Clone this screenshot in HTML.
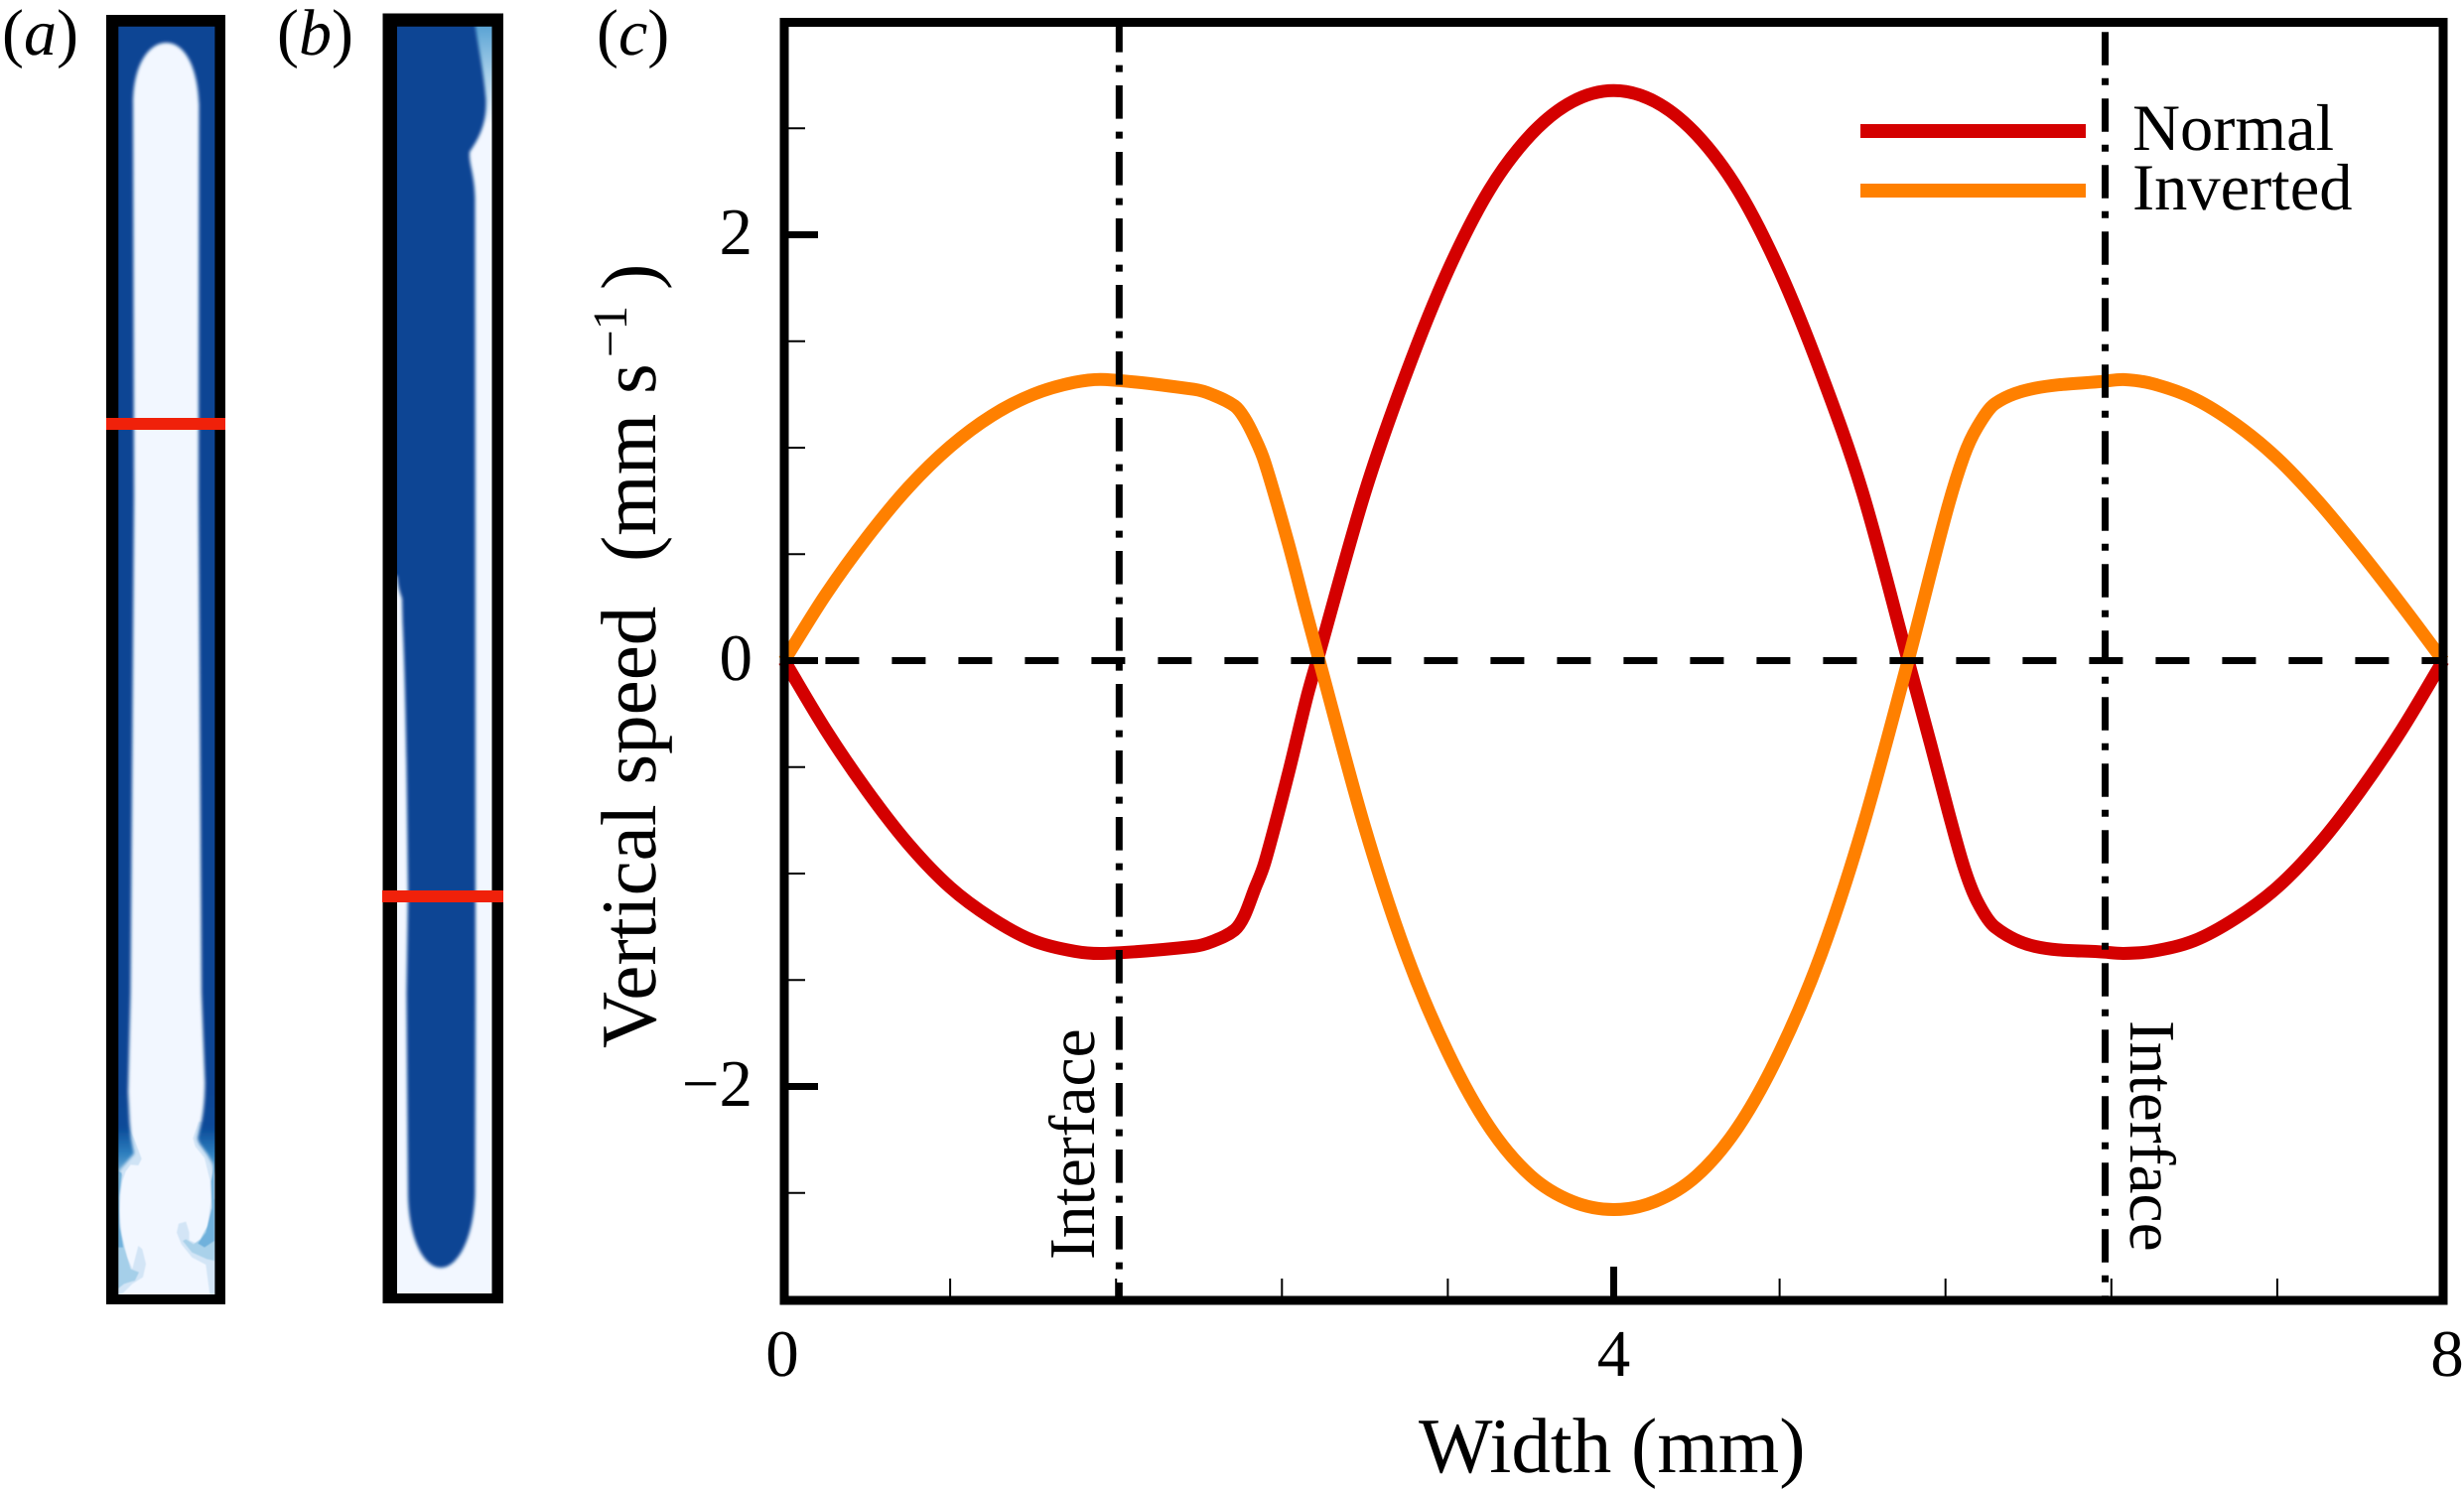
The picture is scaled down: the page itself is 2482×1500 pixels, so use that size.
<!DOCTYPE html>
<html lang="en">
<head>
<meta charset="utf-8">
<title>Vertical speed across channel width</title>
<style>
html,body{margin:0;padding:0;background:#fff;}
svg{display:block;font-family:"Liberation Serif",serif;fill:#000;text-rendering:geometricPrecision;}
</style>
</head>
<body>
<svg id="figure" xmlns="http://www.w3.org/2000/svg" width="2482" height="1500" viewBox="0 0 2482 1500">
<defs>
  <clipPath id="clip-a"><rect x="118" y="26" width="100" height="1279"/></clipPath>
  <clipPath id="clip-b"><rect x="399" y="26" width="97.5" height="1278"/></clipPath>
  <filter id="blur-edge" x="-20%" y="-5%" width="140%" height="110%"><feGaussianBlur stdDeviation="1.6"/></filter>
  <filter id="blur-soft" x="-30%" y="-30%" width="160%" height="160%"><feGaussianBlur stdDeviation="1.2"/></filter>
  <linearGradient id="a-dark-fade" gradientUnits="userSpaceOnUse" x1="0" y1="1100" x2="0" y2="1190">
    <stop offset="0" stop-color="#084594"/><stop offset="0.4" stop-color="#0a4b99"/><stop offset="0.7" stop-color="#2f80bf"/><stop offset="1" stop-color="#8cc0e2"/>
  </linearGradient>
  <linearGradient id="b-top-fade" gradientUnits="userSpaceOnUse" x1="0" y1="26" x2="0" y2="125">
    <stop offset="0" stop-color="#5aa3d4"/><stop offset="0.5" stop-color="#a9d1ea"/><stop offset="1" stop-color="#f2f7ff"/>
  </linearGradient>
</defs>

<g>
  <text x="2" y="55" font-size="66">(<tspan font-style="italic">a</tspan>)</text>
  <g clip-path="url(#clip-a)">
    <rect x="118" y="26" width="100" height="1279" fill="#f2f7ff"/>
    <g transform="translate(100,1110) scale(0.3333)" filter="url(#blur-soft)">
      <path d="M85,70 L105,110 L128,172 L118,192 L95,190 L80,210 L70,240 L62,300 L50,300 L50,70Z" fill="#cfe3f5"/>
      <path d="M300,60 L283,110 L290,135 L318,170 L334,235 L337,300 L326,380 L300,430 L272,418 L272,395 L262,362 L240,368 L234,395 L248,430 L280,470 L322,492 L334,582 L355,582 L355,60Z" fill="#d3e5f6"/>
      <path d="M345,290 L330,370 L305,415 L285,430 L262,415 L252,420 L280,455 L325,475 L348,480 L355,300Z" fill="#a9d1ea"/>
      <path d="M348,180 L338,240 L340,320 L322,395 L298,428 L318,440 L348,420Z" fill="#6fb1dc"/>
      <path d="M50,200 L75,215 L66,260 L62,330 L68,400 L85,470 L100,505 L118,435 L130,445 L141,490 L132,530 L100,550 L72,578 L50,585Z" fill="#d3e5f6"/>
      <path d="M50,210 L70,220 L62,280 L60,360 L75,440 L95,505 L120,515 L108,540 L75,550 L50,570Z" fill="#a5cfe9"/>
      <path d="M50,205 L68,215 L60,290 L62,380 L72,440 L50,440Z" fill="#6fb1dc"/>
    </g>
    <path filter="url(#blur-edge)" fill="url(#a-dark-fade)" d="M110,20 H225 V1182 H216 L214,1172 L209,1163 L201,1152 L199,1147 L203,1130 C205,1120 206.5,1105 206.5,1090 L203,1000 L200,500 L200.5,105 C199,65 185,43 167.5,43 C150,43 134,65 134,105 L135,500 L131.5,1000 L129,1100 L130.5,1130 L132,1147 L135,1162 L128,1170 L121,1178 L119,1188 H110Z"/>
  </g>
  <path fill="#000" fill-rule="evenodd" d="M107,15 H227 V1314 H107Z M119.3,26.7 V1304 H216.4 V26.7Z"/>
  <rect x="107" y="421" width="120" height="12" fill="#f0210a"/>
</g>

<g>
  <text x="279" y="55" font-size="66">(<tspan font-style="italic">b</tspan>)</text>
  <g clip-path="url(#clip-b)">
    <rect x="399" y="26" width="98" height="1278" fill="#f2f7ff"/>
    <rect x="470" y="26" width="27" height="100" fill="url(#b-top-fade)"/>
    <path filter="url(#blur-edge)" fill="#084594" d="M390,20 H478 C481,45 487,70 489.5,100 C490.5,125 482,140 473,153 C472,165 478,175 478.5,200 L479,1000 L478.5,1200 C478,1245 462,1277 444,1277 C426,1277 411,1245 411,1200 L409.5,1000 L411,900 C410,800 409,700 405.5,625 L405,603 C403,597 401,592 400,580 H390Z"/>
  </g>
  <path fill="#000" fill-rule="evenodd" d="M385.5,13.5 H507 V1313 H385.5Z M400,26.7 V1303 H495.5 V26.7Z"/>
  <rect x="385" y="897" width="122" height="12" fill="#f0210a"/>
</g>

<g>
  <text x="601" y="55" font-size="66">(<tspan font-style="italic">c</tspan>)</text>
  <g id="series-layer"></g>
  <g id="guide-layer"></g>
  <g id="tick-layer"></g>
  <rect x="790" y="22.5" width="1671" height="1287.5" fill="none" stroke="#000" stroke-width="9"/>
  <g id="label-layer" font-size="67"></g>

  <text x="1429" y="1483" font-size="79">Width (mm)</text>
  <g font-size="79">
    <text transform="translate(660,1056) rotate(-90)">Vertical speed</text>
    <text transform="translate(660,566) rotate(-90)">(mm s</text>
    <text transform="translate(631,360) rotate(-90)" font-size="49">−1</text>
    <text transform="translate(660,292) rotate(-90)">)</text>
  </g>

  <text transform="translate(1102,1269) rotate(-90)" font-size="65.5">Interface</text>
  <text transform="translate(2146,1028) rotate(90)" font-size="65.5">Interface</text>

  <g font-size="66.5">
    <g>
      <rect x="1874" y="125" width="227" height="14" fill="#d40000"/>
      <text x="2148" y="151">Normal</text>
    </g>
    <g>
      <rect x="1874" y="185" width="227" height="14" fill="#ff8000"/>
      <text x="2148" y="211">Inverted</text>
    </g>
  </g>
</g>
</svg>

<script>
// Chart values (mm, mm/s)
const normalX = [0,0.2,0.4,0.6,0.8,1,1.2,1.4,1.55,1.976,2.062,2.172,2.218,2.268,2.317,2.429,2.52,2.57,2.8,3,3.2,3.4,3.6,3.8,4,4.2,4.4,4.6,4.8,5,5.2,5.42,5.529,5.614,5.689,5.753,5.839,6.031,6.367,6.459,6.6,6.8,7,7.2,7.4,7.6,7.8,8];
const normalV = [0,-0.325,-0.612,-0.863,-1.065,-1.21,-1.315,-1.365,-1.375,-1.342,-1.32,-1.265,-1.2,-1.074,-0.949,-0.538,-0.173,0,0.79,1.35,1.83,2.21,2.47,2.625,2.677,2.625,2.47,2.21,1.83,1.35,0.79,0,-0.394,-0.71,-0.97,-1.13,-1.252,-1.342,-1.369,-1.375,-1.365,-1.315,-1.21,-1.065,-0.863,-0.612,-0.325,0];
const invertedX = [0,0.2,0.4,0.6,0.8,1,1.2,1.4,1.55,1.976,2.062,2.172,2.218,2.268,2.317,2.429,2.52,2.58,2.8,3,3.2,3.4,3.6,3.8,4,4.2,4.4,4.6,4.8,5,5.2,5.42,5.604,5.689,5.753,5.839,6.031,6.367,6.459,6.6,6.8,7,7.2,7.4,7.6,7.8,8];
const invertedV = [0,0.31,0.58,0.815,1.005,1.15,1.25,1.307,1.32,1.274,1.25,1.196,1.141,1.048,0.932,0.557,0.218,0,-0.785,-1.38,-1.84,-2.19,-2.42,-2.54,-2.578,-2.54,-2.42,-2.19,-1.84,-1.38,-0.785,0,0.695,0.962,1.096,1.207,1.279,1.312,1.32,1.3,1.23,1.11,0.95,0.745,0.51,0.26,0];
const xMajorTicks = [0,4,8];
const xMinorTicks = [0.8,1.6,2.4,3.2,4.8,5.6,6.4,7.2];
const yMajorTicks = [-2,0,2];
const yMinorTicks = [-2.5,-1.5,-1,-0.5,0.5,1,1.5,2.5];
const xTickLabels = ["0","4","8"];
const yTickLabels = ["−2","0","2"];
const interfacePositions = [1.615,6.37];

const NS = "http://www.w3.org/2000/svg";
function xScale(v){ return 790 + (v - 0) * (2461 - 790) / (8 - 0); }
function yScale(v){ return 665.5 - v * 214.5; }
function mk(tag){ return document.createElementNS(NS, tag); }

function splinePath(xs, vs){
  const p = xs.map(function(x, i){ return [xScale(x), yScale(vs[i])]; });
  const n = p.length;
  const m = p.map(function(pt, i){
    const a = p[Math.max(i - 1, 0)], c = p[Math.min(i + 1, n - 1)];
    return (c[1] - a[1]) / (c[0] - a[0]);
  });
  let d = "M" + p[0][0].toFixed(2) + "," + p[0][1].toFixed(2);
  for (let i = 0; i < n - 1; i++){
    const h = (p[i + 1][0] - p[i][0]) / 3;
    d += "C" + (p[i][0] + h).toFixed(2) + "," + (p[i][1] + m[i] * h).toFixed(2) + " " +
         (p[i + 1][0] - h).toFixed(2) + "," + (p[i + 1][1] - m[i + 1] * h).toFixed(2) + " " +
         p[i + 1][0].toFixed(2) + "," + p[i + 1][1].toFixed(2);
  }
  return d;
}

const seriesLayer = document.getElementById("series-layer");
const guideLayer = document.getElementById("guide-layer");
const tickLayer = document.getElementById("tick-layer");
const labelLayer = document.getElementById("label-layer");

const normalLine = mk("path");


normalLine.setAttribute("d", splinePath(normalX, normalV));
normalLine.setAttribute("fill", "none");
normalLine.setAttribute("stroke", "#d40000");
normalLine.setAttribute("stroke-width", "13");
normalLine.setAttribute("stroke-linejoin", "round");
seriesLayer.appendChild(normalLine);

const invertedLine = mk("path");


invertedLine.setAttribute("d", splinePath(invertedX, invertedV));
invertedLine.setAttribute("fill", "none");
invertedLine.setAttribute("stroke", "#ff8000");
invertedLine.setAttribute("stroke-width", "13");
invertedLine.setAttribute("stroke-linejoin", "round");
seriesLayer.appendChild(invertedLine);

const zeroLine = mk("line");


zeroLine.setAttribute("x1", xScale(0));
zeroLine.setAttribute("x2", xScale(8));
zeroLine.setAttribute("y1", yScale(0));
zeroLine.setAttribute("y2", yScale(0));
zeroLine.setAttribute("stroke", "#000");
zeroLine.setAttribute("stroke-width", "7");
zeroLine.setAttribute("stroke-dasharray", "34 33");
zeroLine.setAttribute("stroke-dashoffset", "25.6");
guideLayer.appendChild(zeroLine);

interfacePositions.forEach(function(pos, i){
  const line = mk("line");
  
  
  line.setAttribute("x1", xScale(pos));
  line.setAttribute("x2", xScale(pos));
  line.setAttribute("y1", i === 0 ? 26 : 32.2);
  line.setAttribute("y2", 1307);
  line.setAttribute("stroke", "#000");
  line.setAttribute("stroke-width", "7");
  line.setAttribute("stroke-dasharray", "33.6 13 7 13.4");
  line.setAttribute("stroke-dashoffset", i === 0 ? "7" : "0");
  guideLayer.appendChild(line);
});

yMajorTicks.forEach(function(v){
  const t = mk("line");
  
  
  t.setAttribute("x1", 790);
  t.setAttribute("x2", 824);
  t.setAttribute("y1", yScale(v));
  t.setAttribute("y2", yScale(v));
  t.setAttribute("stroke", "#000");
  t.setAttribute("stroke-width", "7");
  tickLayer.appendChild(t);
});
yMinorTicks.forEach(function(v){
  const t = mk("line");
  
  
  t.setAttribute("x1", 790);
  t.setAttribute("x2", 811);
  t.setAttribute("y1", yScale(v));
  t.setAttribute("y2", yScale(v));
  t.setAttribute("stroke", "#000");
  t.setAttribute("stroke-width", "2");
  tickLayer.appendChild(t);
});
xMajorTicks.forEach(function(v){
  const t = mk("line");
  
  
  t.setAttribute("x1", xScale(v));
  t.setAttribute("x2", xScale(v));
  t.setAttribute("y1", 1310);
  t.setAttribute("y2", 1276);
  t.setAttribute("stroke", "#000");
  t.setAttribute("stroke-width", "7");
  tickLayer.appendChild(t);
});
xMinorTicks.forEach(function(v){
  const t = mk("line");
  
  
  t.setAttribute("x1", xScale(v));
  t.setAttribute("x2", xScale(v));
  t.setAttribute("y1", 1310);
  t.setAttribute("y2", 1288);
  t.setAttribute("stroke", "#000");
  t.setAttribute("stroke-width", "2");
  tickLayer.appendChild(t);
});

xMajorTicks.forEach(function(v, i){
  const t = mk("text");
  
  
  t.setAttribute("x", xScale(v) + (i === 0 ? -2 : (i === 2 ? 4 : 0)));
  t.setAttribute("y", 1386);
  t.setAttribute("text-anchor", "middle");
  t.textContent = xTickLabels[i];
  labelLayer.appendChild(t);
});
yMajorTicks.forEach(function(v, i){
  const t = mk("text");
  
  
  t.setAttribute("x", 758);
  t.setAttribute("y", yScale(v) + 19.5);
  t.setAttribute("text-anchor", "end");
  t.textContent = yTickLabels[i];
  labelLayer.appendChild(t);
});
</script>
</body>
</html>
